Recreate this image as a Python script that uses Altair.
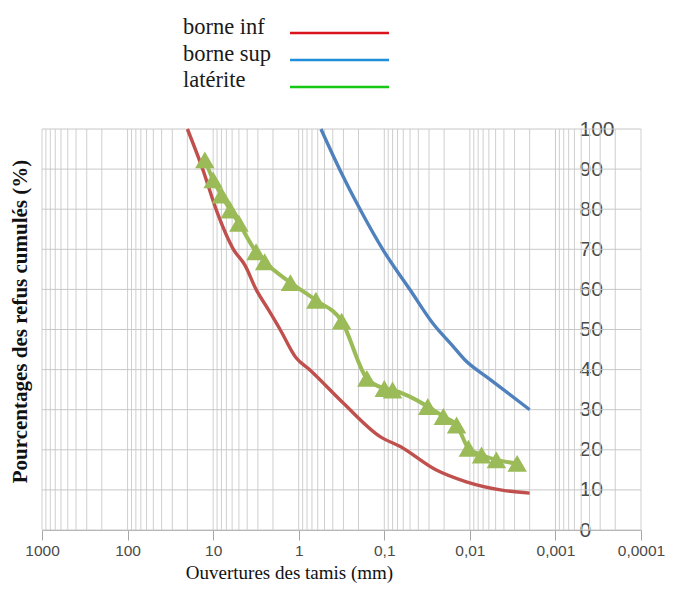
import altair as alt
import pandas as pd

# ---- data ----
inf_mm = [20, 13.25, 9.26, 5.8, 4.24, 3.15, 2.27, 1.65, 1.08, 0.74, 0.30, 0.112, 0.065, 0.025, 0.011, 0.0044, 0.002]
inf_pct = [100, 90.0, 80.0, 70.0, 66.0, 60.0, 55.0, 50.0, 43.0, 39.9, 31.6, 23.3, 20.8, 15.0, 12.0, 10.0, 9.2]

sup_mm = [0.55, 0.33, 0.19, 0.103, 0.05, 0.027, 0.016, 0.0114, 0.0062, 0.002]
sup_pct = [100, 89.8, 79.8, 69.8, 59.9, 51.5, 46.0, 42.4, 38.0, 30.0]

lat_mm = [12.5, 10, 8, 6.3, 5, 3.15, 2.5, 1.25, 0.63, 0.315, 0.16, 0.1, 0.08,
          0.031, 0.0204, 0.0143, 0.0104, 0.0073, 0.0049, 0.0028]
lat_pct = [92.3, 87.3, 83.5, 79.8, 76.5, 69.4, 66.9, 61.7, 57.3, 52.1, 37.8, 35.3, 34.9,
           30.8, 28.3, 26.2, 20.4, 18.7, 17.5, 16.6]

decades = [1000, 100, 10, 1, 0.1, 0.01, 0.001, 0.0001]
decade_labels = ["1000", "100", "10", "1", "0,1", "0,01", "0,001", "0,0001"]
y_ticks = [0, 10, 20, 30, 40, 50, 60, 70, 80, 90, 100]

legend_names = ["borne inf", "borne sup", "latérite"]
legend_colors = ["#d9141c", "#1f8fdc", "#14c814"]

# gridline positions (1..9 x each decade)
grid_x = [m * 10.0 ** k for k in range(-4, 3) for m in range(1, 10)] + [1000]

W, H = 599, 401

xscale = alt.Scale(type="log", domain=[0.0001, 1000], reverse=True, nice=False)
yscale = alt.Scale(domain=[0, 100], nice=False, zero=False)

parts = []
for v, l in zip(decades, decade_labels):
    parts.append(f"abs(datum.value - {v}) < {v * 1e-6} ? '{l}'")
label_expr = " : ".join(parts) + " : ''"

xaxis = alt.Axis(
    values=decades, labelExpr=label_expr, grid=False,
    tickSize=10, tickColor="#a6a6a6", domainColor="#a6a6a6",
    labelFont="Liberation Sans", labelFontSize=15.5,
    labelColor="#4a4a4a", labelPadding=3, labelFlush=False, labelOverlap=False,
    title="Ouvertures des tamis (mm)", titleFont="Liberation Serif",
    titleFontSize=19, titleFontWeight="normal", titleColor="#111111",
    titleX=247, titleY=48, titleBaseline="alphabetic", titleAnchor="middle",
    titleAlign="center",
)
yaxis = alt.Axis(
    values=y_ticks, orient="right", offset=-86, grid=False, ticks=False,
    domainColor="#a0a0a0", labelAlign="left", labelPadding=24,
    labelBaseline="middle", labelFont="Liberation Sans", labelFontSize=21,
    labelColor="#4a4a4a",
    title="Pourcentages des refus cumulés (%)", titleFont="Liberation Serif",
    titleFontSize=21, titleFontWeight="bold", titleColor="#111111",
    titleAngle=270, titleX=-535, titleY=192, titleAlign="center",
    titleBaseline="middle",
)


def X(field):
    return alt.X(field, type="quantitative", scale=xscale, axis=xaxis)


def Y(field):
    return alt.Y(field, type="quantitative", scale=yscale, axis=yaxis)


vgrid = alt.Chart(pd.DataFrame({"gx": grid_x})).mark_rule(
    color="#cfcfcf", strokeWidth=1).encode(x=X("gx"))
hgrid = alt.Chart(pd.DataFrame({"gy": y_ticks})).mark_rule(
    color="#c8c8c8", strokeWidth=1).encode(y=Y("gy"))

df_inf = pd.DataFrame({"mm": inf_mm, "pct": inf_pct})
df_sup = pd.DataFrame({"mm": sup_mm, "pct": sup_pct})
df_lat = pd.DataFrame({"mm": lat_mm, "pct": lat_pct})

order = alt.Order("mm:Q", sort="descending")

red = alt.Chart(df_inf).mark_line(color="#c0504d", strokeWidth=3.4, interpolate="monotone").encode(
    x=X("mm"), y=Y("pct"), order=order)
blue = alt.Chart(df_sup).mark_line(color="#4f81bd", strokeWidth=3.4, interpolate="monotone").encode(
    x=X("mm"), y=Y("pct"), order=order)
green = alt.Chart(df_lat).mark_line(color="#9bbb59", strokeWidth=4, interpolate="monotone").encode(
    x=X("mm"), y=Y("pct"), order=order)
tri = alt.Chart(df_lat).mark_point(shape="triangle-up", filled=True, size=380,
                                   color="#9bbb59", opacity=1).encode(
    x=X("mm"), y=Y("pct"))

# legend drawn above the plot
leg_text_y = [-95, -68, -42]
leg_line_y = [-96, -69, -42]
legend_layers = []
for name, col, ty, ly in zip(legend_names, legend_colors, leg_text_y, leg_line_y):
    legend_layers.append(
        alt.Chart(pd.DataFrame({"t": [name]})).mark_text(
            align="left", baseline="alphabetic", font="Liberation Serif",
            fontSize=22.5, color="#1a1a1a").encode(
            text="t:N", x=alt.value(141), y=alt.value(ty))
    )
    legend_layers.append(
        alt.Chart(pd.DataFrame({"t": [name]})).mark_rule(color=col, strokeWidth=2.6).encode(
            x=alt.value(248), x2=alt.value(347), y=alt.value(ly))
    )

chart = alt.layer(vgrid, hgrid, red, blue, green, tri, *legend_layers).properties(
    width=W, height=H,
    autosize=alt.AutoSizeParams(type="none"),
    padding={"left": 34, "top": 121, "right": 27, "bottom": 54},
).configure_view(stroke=None)

chart.save("out.html", embed_options={"renderer": "svg", "actions": False})
